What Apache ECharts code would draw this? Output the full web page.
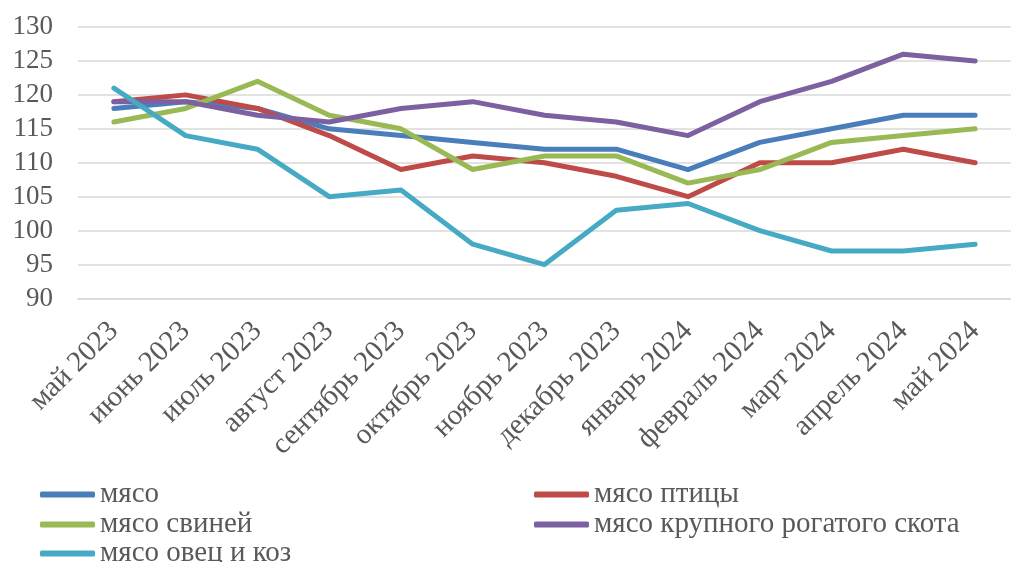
<!DOCTYPE html>
<html>
<head>
<meta charset="utf-8">
<script src="https://cdn.jsdelivr.net/npm/echarts@6/dist/echarts.min.js"></script>
<style>
  html, body { margin: 0; padding: 0; background: #fff; }
  #chart { width: 1011px; height: 562px; }
</style>
</head>
<body>
<div id="chart"></div>
<script>
const months = ['май 2023', 'июнь 2023', 'июль 2023', 'август 2023', 'сентябрь 2023', 'октябрь 2023',
  'ноябрь 2023', 'декабрь 2023', 'январь 2024', 'февраль 2024', 'март 2024', 'апрель 2024', 'май 2024'];

const meat = [118, 119, 118, 115, 114, 113, 112, 112, 109, 113, 115, 117, 117];
const poultry = [119, 120, 118, 114, 109, 111, 110, 108, 105, 110, 110, 112, 110];
const pork = [116, 118, 122, 117, 115, 109, 111, 111, 107, 109, 113, 114, 115];
const beef = [119, 119, 117, 116, 118, 119, 117, 116, 114, 119, 122, 126, 125];
const mutton = [121, 114, 112, 105, 106, 98, 95, 103, 104, 100, 97, 97, 98];

const yTicks = { min: 90, max: 130, step: 5 };

const FONT = '"Liberation Serif", "Times New Roman", serif';
const TEXT = '#595959';

function line(name, data, color) {
  return {
    name: name,
    type: 'line',
    data: data,
    showSymbol: false,
    symbol: 'none',
    color: color,
    lineStyle: { width: 5, color: color, cap: 'round', join: 'round' },
    animation: false
  };
}

// one legend per entry so the two-column layout of the original can be kept
function legendItem(name, left, top) {
  return {
    left: left,
    top: top,
    padding: 0,
    itemWidth: 55,
    itemHeight: 6,
    icon: 'roundRect',
    textStyle: { fontFamily: FONT, fontSize: 29, color: TEXT },
    data: [name]
  };
}

const chart = echarts.init(document.getElementById('chart'));
chart.setOption({
  grid: { left: 78, right: -13, top: 27, bottom: 263.5 },
  xAxis: {
    type: 'category',
    data: months,
    boundaryGap: true,
    axisLine: { lineStyle: { color: '#d9d9d9', width: 1.5 } },
    axisTick: { show: false },
    axisLabel: {
      rotate: 45,
      interval: 0,
      margin: 28,
      fontFamily: FONT,
      fontSize: 29,
      color: TEXT
    }
  },
  yAxis: {
    type: 'value',
    min: yTicks.min,
    max: yTicks.max,
    interval: yTicks.step,
    axisLine: { show: false },
    axisTick: { show: false },
    splitLine: { lineStyle: { color: '#d9d9d9', width: 1.5 } },
    axisLabel: { margin: 25, fontFamily: FONT, fontSize: 27, color: TEXT }
  },
  legend: [
    legendItem('мясо', 40, 480),
    legendItem('мясо птицы', 534, 480),
    legendItem('мясо свиней', 40, 510),
    legendItem('мясо крупного рогатого скота', 534, 510),
    legendItem('мясо овец и коз', 40, 539)
  ],
  series: [
    line('мясо', meat, '#4a7ebb'),
    line('мясо птицы', poultry, '#be4b48'),
    line('мясо свиней', pork, '#98b954'),
    line('мясо крупного рогатого скота', beef, '#7d60a0'),
    line('мясо овец и коз', mutton, '#46aac5')
  ]
});
</script>
</body>
</html>
